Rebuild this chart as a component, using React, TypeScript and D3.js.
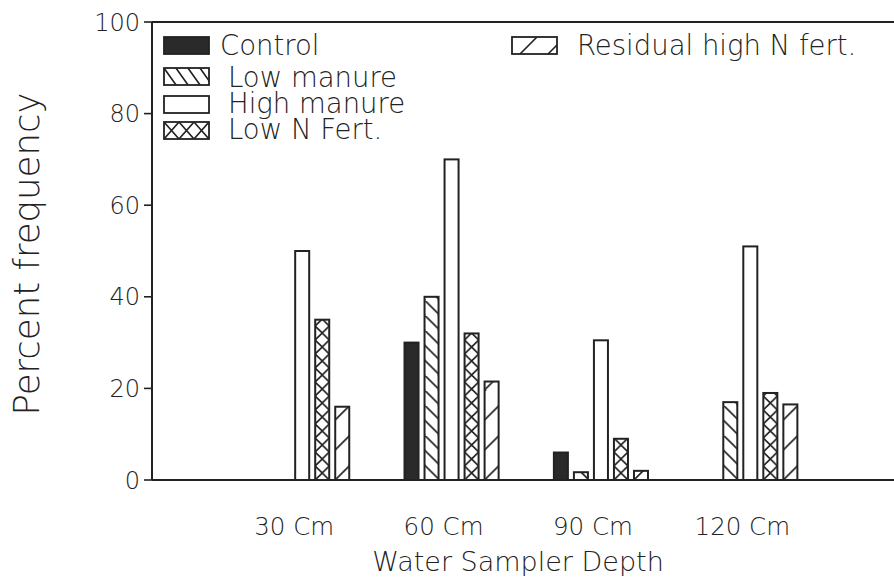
import React from "react";
import * as d3 from "d3";

const categories = ["30 Cm", "60 Cm", "90 Cm", "120 Cm"];
const seriesNames = ["Control", "Low manure", "High manure", "Low N Fert.", "Residual high N fert."];
const controlValues = [0, 30, 6, 0];
const lowManureValues = [0, 40, 1.7, 17];
const highManureValues = [50, 70, 30.5, 51];
const lowNFertValues = [35, 32, 9, 19];
const residualValues = [16, 21.5, 2, 16.5];
const yTicks = [0, 20, 40, 60, 80, 100];

const seriesValues = [controlValues, lowManureValues, highManureValues, lowNFertValues, residualValues];
const fills = ["#2a2a2a", "url(#pLow)", "#ffffff", "url(#pCross)", "url(#pRes)"];
const legendFills = ["#2a2a2a", "url(#pLowL)", "#ffffff", "url(#pCrossL)", "url(#pResL)"];

const W = 894, H = 581;
const INK = "#222";
const FONT = "'DejaVu Sans', sans-serif";
const FW = 300;

export default function App() {
  const y = d3.scaleLinear().domain([0, 100]).range([480, 22]);
  const x0 = d3.scaleBand<string>().domain(categories).range([227.5, 825]).paddingInner(0.37).paddingOuter(0.185);
  const x1 = d3.scaleBand<string>().domain(seriesNames).range([0, x0.bandwidth()]).paddingInner(0.3).paddingOuter(0);
  const bw = x1.bandwidth();

  const legendPos = [
    { box: [164, 37], text: [220, 55] },
    { box: [164, 68], text: [228, 87] },
    { box: [164, 96], text: [228, 113] },
    { box: [164, 122], text: [228, 139] },
    { box: [512, 37], text: [577, 55] },
  ];

  return (
    <svg width={W} height={H} style={{ position: "absolute", left: 0, top: 0, background: "#fff" }}>
      <defs>
        <pattern id="pLow" patternUnits="userSpaceOnUse" width={15} height={15}>
          <path d="M0,0 L15,15 M-2,13 L2,17 M13,-2 L17,2" stroke={INK} strokeWidth={1.6} />
        </pattern>
        <pattern id="pCross" patternUnits="userSpaceOnUse" width={bw} height={14}>
          <path d={`M0,0 L${bw},14 M${bw},0 L0,14`} stroke={INK} strokeWidth={1.6} />
        </pattern>
        <pattern id="pRes" patternUnits="userSpaceOnUse" width={30} height={30}>
          <path d="M0,30 L30,0 M-3,3 L3,-3 M27,33 L33,27" stroke={INK} strokeWidth={1.6} />
        </pattern>
        <pattern id="pLowL" patternUnits="userSpaceOnUse" width={12} height={17}>
          <path d="M0,0 L12,17 M-3,12.75 L3,21.25 M9,-4.25 L15,4.25" stroke={INK} strokeWidth={1.6} />
        </pattern>
        <pattern id="pCrossL" patternUnits="userSpaceOnUse" width={15} height={17}>
          <path d="M0,0 L15,17 M15,0 L0,17" stroke={INK} strokeWidth={1.6} />
        </pattern>
        <pattern id="pResL" patternUnits="userSpaceOnUse" width={28} height={17}>
          <path d="M8,17 L25,0 M36,17 L53,0 M-20,17 L-3,0" stroke={INK} strokeWidth={1.6} />
        </pattern>
      </defs>

      {/* frame */}
      <line x1={152} x2={W} y1={y(100)} y2={y(100)} stroke={INK} strokeWidth={2} />
      <line x1={152} x2={W} y1={y(0)} y2={y(0)} stroke={INK} strokeWidth={2} />
      <line x1={152} x2={152} y1={y(100)} y2={y(0)} stroke={INK} strokeWidth={2} />

      {/* y ticks */}
      {yTicks.map((t) => (
        <g key={t}>
          <line x1={144} x2={152} y1={y(t)} y2={y(t)} stroke={INK} strokeWidth={1.6} />
          <text x={140} y={y(t) + 8.5} textAnchor="end" fontFamily={FONT} fontWeight={FW} fontSize={24} fill={INK}>
            {t}
          </text>
        </g>
      ))}

      {/* bars */}
      {categories.map((c, ci) => (
        <g key={c}>
          {seriesNames.map((s, si) => {
            const v = seriesValues[si][ci];
            if (!v) return null;
            const bx = (x0(c) as number) + (x1(s) as number);
            const h = y(0) - y(v);
            return (
              <g key={s} transform={`translate(${bx},${y(0)})`}>
                <rect x={0} y={-h} width={bw} height={h} fill={fills[si]} stroke={INK} strokeWidth={2} />
              </g>
            );
          })}
        </g>
      ))}

      {/* x labels */}
      {categories.map((c) => (
        <text
          key={c}
          x={(x0(c) as number) + x0.bandwidth() / 2 - 8}
          y={535}
          textAnchor="middle"
          fontFamily={FONT}
          fontWeight={FW}
          fontSize={24.5}
          fill={INK}
        >
          {c}
        </text>
      ))}

      {/* axis titles */}
      <text x={518} y={571} textAnchor="middle" fontFamily={FONT} fontWeight={FW} fontSize={27} fill={INK}>
        Water Sampler Depth
      </text>
      <text
        transform="translate(39,254) rotate(-90)"
        textAnchor="middle"
        fontFamily={FONT}
        fontWeight={FW}
        fontSize={35.5}
        fill={INK}
      >
        Percent frequency
      </text>

      {/* legend */}
      {seriesNames.map((s, si) => {
        const L = legendPos[si];
        return (
          <g key={s}>
            <g transform={`translate(${L.box[0]},${L.box[1]})`}>
              <rect x={0} y={0} width={45} height={17} fill={legendFills[si]} stroke={INK} strokeWidth={1.8} />
            </g>
            <text x={L.text[0]} y={L.text[1]} fontFamily={FONT} fontWeight={FW} fontSize={27.5} fill={INK}>
              {s}
            </text>
          </g>
        );
      })}
    </svg>
  );
}
